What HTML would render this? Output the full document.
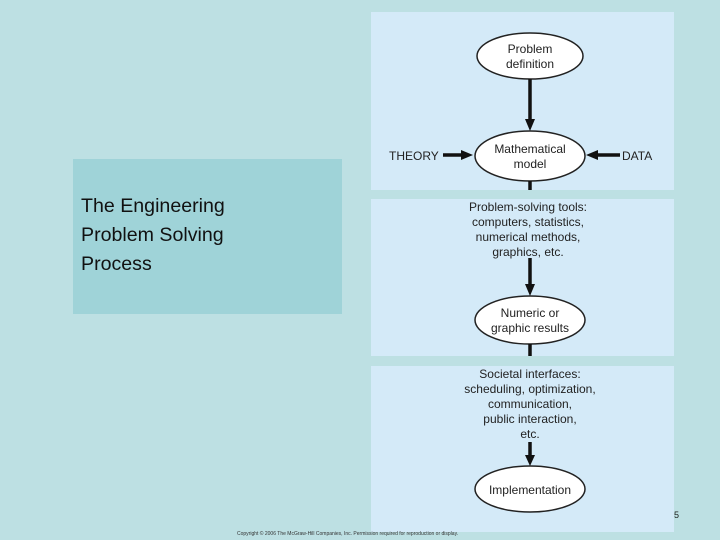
<html><head><style>
body{margin:0;width:720px;height:540px;background:#bde0e3;position:relative;overflow:hidden;font-family:"Liberation Sans",sans-serif}
.p{position:absolute;background:#d4eaf8}
</style></head><body>
<div style="position:absolute;left:73px;top:159px;width:269px;height:155px;background:#9fd3d8"></div>
<div style="position:absolute;left:81px;top:192px;font-size:19.6px;line-height:29px;color:#111">The Engineering<br>Problem Solving<br>Process</div>
<div class="p" style="left:371px;top:12px;width:303px;height:178px"></div>
<div class="p" style="left:371px;top:199px;width:303px;height:157px"></div>
<div class="p" style="left:371px;top:366px;width:303px;height:166px"></div>
<svg width="720" height="540" style="position:absolute;left:0;top:0" font-family="Liberation Sans" font-size="12" fill="#222">
<g stroke="#222" stroke-width="1.5" fill="#fff">
<ellipse cx="530" cy="56" rx="53" ry="23"/>
<ellipse cx="530" cy="156" rx="55" ry="25"/>
<ellipse cx="530" cy="320" rx="55" ry="24"/>
<ellipse cx="530" cy="489" rx="55" ry="23"/>
</g>
<g stroke="#111" stroke-width="3.5">
<line x1="530" y1="79" x2="530" y2="120"/>
<line x1="443" y1="155" x2="462" y2="155"/>
<line x1="620" y1="155" x2="597" y2="155"/>
<line x1="530" y1="181" x2="530" y2="190"/>
<line x1="530" y1="258" x2="530" y2="285"/>
<line x1="530" y1="344" x2="530" y2="356"/>
<line x1="530" y1="442" x2="530" y2="456"/>
</g>
<g fill="#111">
<polygon points="525,119 535,119 530,131"/>
<polygon points="461,150 461,160 473,155"/>
<polygon points="598,150 598,160 586,155"/>
<polygon points="525,284 535,284 530,296"/>
<polygon points="525,455 535,455 530,466"/>
</g>
<g text-anchor="middle">
<text x="530" y="53">Problem</text><text x="530" y="68">definition</text>
<text x="530" y="153">Mathematical</text><text x="530" y="168">model</text>
<text x="530" y="317">Numeric or</text><text x="530" y="332">graphic results</text>
<text x="530" y="494">Implementation</text>
<text x="528" y="211">Problem-solving tools:</text>
<text x="528" y="226">computers, statistics,</text>
<text x="528" y="241">numerical methods,</text>
<text x="528" y="256">graphics, etc.</text>
<text x="530" y="378">Societal interfaces:</text>
<text x="530" y="393">scheduling, optimization,</text>
<text x="530" y="408">communication,</text>
<text x="530" y="423">public interaction,</text>
<text x="530" y="438">etc.</text>
</g>
<text x="389" y="160">THEORY</text>
<text x="622" y="160">DATA</text>
<text x="674" y="518" font-size="9">5</text>
<text x="237" y="535" font-size="5" fill="#333">Copyright © 2006 The McGraw-Hill Companies, Inc. Permission required for reproduction or display.</text>
</svg>
</body></html>
